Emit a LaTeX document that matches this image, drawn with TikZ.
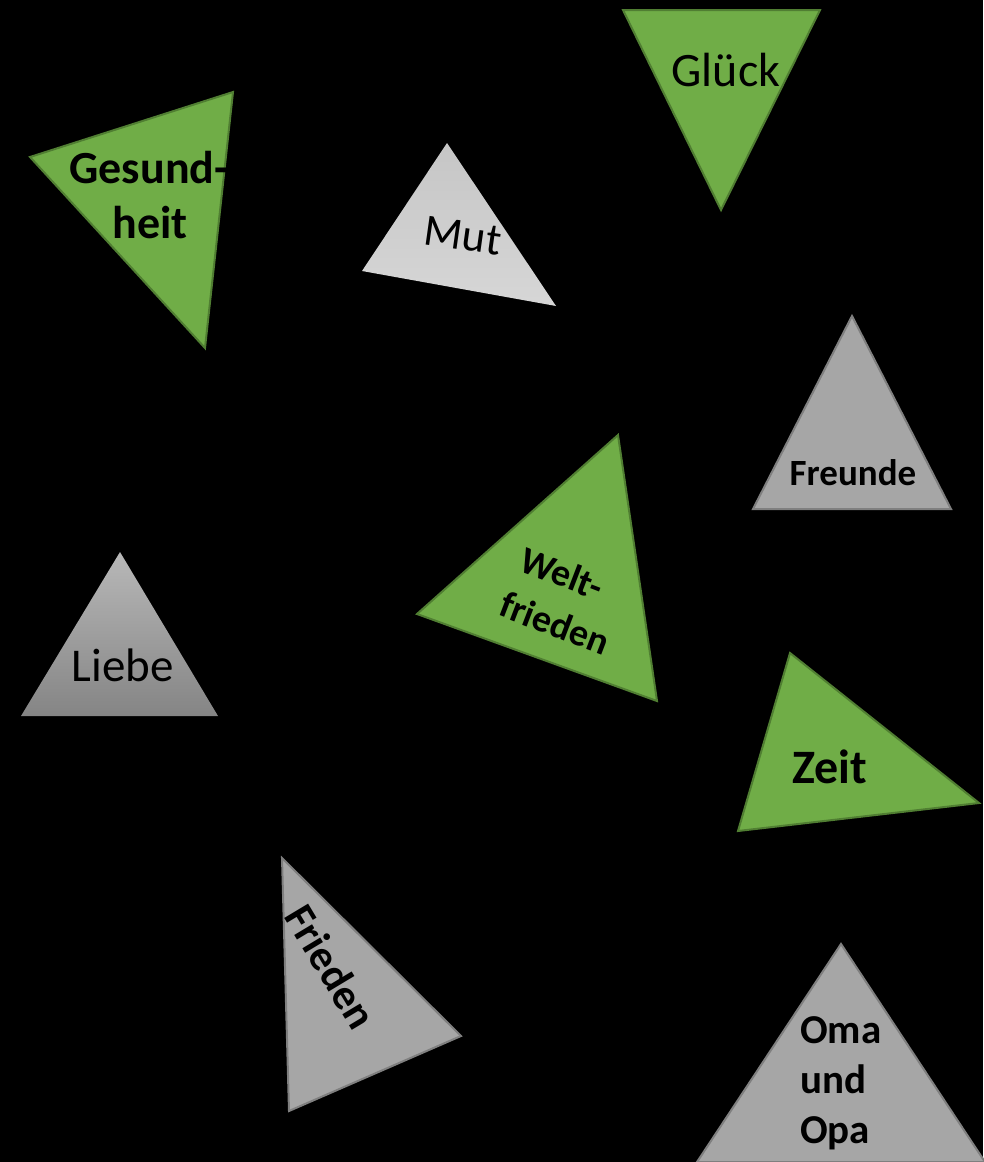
\documentclass[tikz,border=0pt]{standalone}
\usepackage{fontspec}
\setmainfont{Carlito}
\definecolor{tgreen}{HTML}{70AD47}
\definecolor{tgreenb}{HTML}{507E32}
\definecolor{tgray}{HTML}{A6A6A6}
\definecolor{tgrayb}{HTML}{7F7F7F}
\definecolor{tlight}{HTML}{D2D2D2}
\tikzset{
  greentri/.style={fill=tgreen, draw=tgreenb, line width=2pt, line join=miter},
  graytri/.style={fill=tgray, draw=tgrayb, line width=2pt, line join=miter},
  lbl/.style={inner sep=0pt, text=black},
  fb/.style={font=\fontsize{#1}{#1}\selectfont\bfseries},
  fr/.style={font=\fontsize{#1}{#1}\selectfont},
}
\begin{document}
\begin{tikzpicture}[x=1pt,y=-1pt]
\fill[black] (0,0) rectangle (983,1162);
\useasboundingbox (0,0) rectangle (983,1162);

% Gesundheit
\draw[greentri] (30,157) -- (233,92) -- (205,348) -- cycle;
\node[lbl,fb=46,anchor=base] (gesund1) at (149,183) {Gesund-};
\node[lbl,fb=46,anchor=base] (gesund2) at (150,238) {heit};

% Mut
\shade[top color=tlight!85!gray, bottom color=tlight!90!white] (447,143) -- (362,271) -- (556,306) -- cycle;
\node[lbl,fr=45,anchor=base,rotate=-8] (mut) at (461,250) {Mut};

% Glueck
\draw[greentri] (623,10) -- (820,10) -- (721,210) -- cycle;
\node[lbl,fr=48,anchor=base] (glueck) at (726,86) {Glück};

% Freunde
\draw[graytri] (852,316) -- (951,509) -- (753,509) -- cycle;
\node[lbl,fb=37,anchor=base] (freunde) at (853,485) {Freunde};

% Weltfrieden
\draw[greentri] (618,435) -- (657,701) -- (417,614) -- cycle;
\node[lbl,fb=38,rotate=-21] (welt1) at (562,573) {Welt-};
\node[lbl,fb=38,rotate=-21] (welt2) at (555,623) {frieden};

% Liebe
\shade[top color=tgray!80!white, bottom color=tgray!80!black] (120,552) -- (218,716) -- (21,716) -- cycle;
\node[lbl,fr=47,anchor=base] (liebe) at (123,681) {Liebe};

% Zeit
\draw[greentri] (790,653) -- (979,803) -- (738,831) -- cycle;
\node[lbl,fb=48,anchor=base] (zeit) at (830,783) {Zeit};

% Frieden
\draw[graytri] (282,858) -- (461,1036) -- (289,1111) -- cycle;
\node[lbl,fb=43,rotate=-59] (frieden) at (331,967) {Frieden};

% Oma und Opa
\draw[graytri] (841,944) -- (985,1162) -- (697,1162) -- cycle;
\node[lbl,fb=41,anchor=base west] (oma) at (800,1043) {Oma};
\node[lbl,fb=41,anchor=base west] (und) at (800,1093) {und};
\node[lbl,fb=41,anchor=base west] (opa) at (800,1143) {Opa};
\end{tikzpicture}
\end{document}
